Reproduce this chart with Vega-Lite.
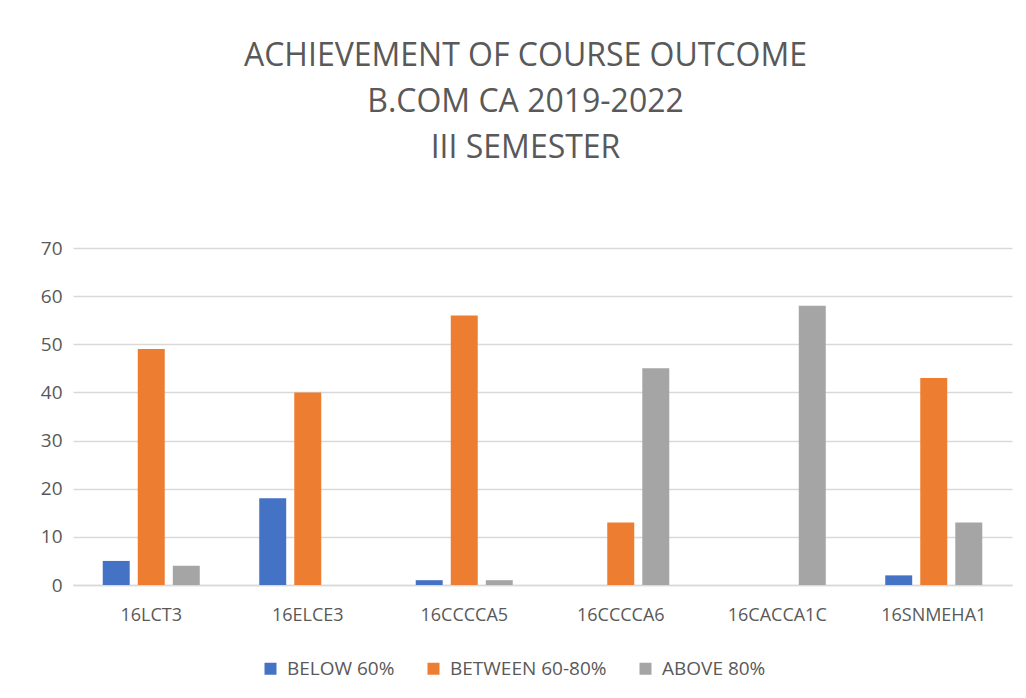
{
  "$schema": "https://vega.github.io/schema/vega-lite/v6.json",
  "autosize": {"type": "none"},
  "width": 939,
  "height": 337,
  "padding": {"left": 73, "top": 248, "right": 14, "bottom": 113},
  "background": "white",
  "title": {
    "text": ["ACHIEVEMENT OF COURSE OUTCOME", "B.COM CA 2019-2022", "III SEMESTER"],
    "font": "Open Sans",
    "fontSize": 32,
    "fontWeight": "normal",
    "color": "#595959",
    "lineHeight": 46,
    "anchor": "middle",
    "dx": -17,
    "offset": 74
  },
  "data": {
    "values": [
      {"course": "16LCT3", "level": "BELOW 60%", "count": 5},
      {"course": "16LCT3", "level": "BETWEEN 60-80%", "count": 49},
      {"course": "16LCT3", "level": "ABOVE 80%", "count": 4},
      {"course": "16ELCE3", "level": "BELOW 60%", "count": 18},
      {"course": "16ELCE3", "level": "BETWEEN 60-80%", "count": 40},
      {"course": "16ELCE3", "level": "ABOVE 80%", "count": 0},
      {"course": "16CCCCA5", "level": "BELOW 60%", "count": 1},
      {"course": "16CCCCA5", "level": "BETWEEN 60-80%", "count": 56},
      {"course": "16CCCCA5", "level": "ABOVE 80%", "count": 1},
      {"course": "16CCCCA6", "level": "BELOW 60%", "count": 0},
      {"course": "16CCCCA6", "level": "BETWEEN 60-80%", "count": 13},
      {"course": "16CCCCA6", "level": "ABOVE 80%", "count": 45},
      {"course": "16CACCA1C", "level": "BELOW 60%", "count": 0},
      {"course": "16CACCA1C", "level": "BETWEEN 60-80%", "count": 0},
      {"course": "16CACCA1C", "level": "ABOVE 80%", "count": 58},
      {"course": "16SNMEHA1", "level": "BELOW 60%", "count": 2},
      {"course": "16SNMEHA1", "level": "BETWEEN 60-80%", "count": 43},
      {"course": "16SNMEHA1", "level": "ABOVE 80%", "count": 13}
    ]
  },
  "mark": {"type": "bar"},
  "encoding": {
    "x": {
      "field": "course",
      "type": "nominal",
      "sort": ["16LCT3", "16ELCE3", "16CCCCA5", "16CCCCA6", "16CACCA1C", "16SNMEHA1"],
      "scale": {"paddingInner": 0.38, "paddingOuter": 0.19},
      "axis": {
        "title": null,
        "labelAngle": 0,
        "labelFont": "Open Sans",
        "labelFontSize": 18,
        "labelColor": "#595959",
        "labelPadding": 21,
        "ticks": false,
        "domain": true,
        "domainColor": "#d9d9d9",
        "domainWidth": 1.5,
        "grid": false
      }
    },
    "xOffset": {
      "field": "level",
      "type": "nominal",
      "sort": ["BELOW 60%", "BETWEEN 60-80%", "ABOVE 80%"],
      "scale": {"paddingInner": 0.23, "paddingOuter": 0}
    },
    "y": {
      "field": "count",
      "type": "quantitative",
      "scale": {"domain": [0, 70], "nice": false},
      "axis": {
        "title": null,
        "values": [0, 10, 20, 30, 40, 50, 60, 70],
        "labelFont": "Open Sans",
        "labelFontSize": 19,
        "labelColor": "#595959",
        "labelPadding": 11,
        "ticks": false,
        "domain": false,
        "grid": true,
        "gridColor": "#d9d9d9",
        "gridWidth": 1.5
      }
    },
    "color": {
      "field": "level",
      "type": "nominal",
      "sort": ["BELOW 60%", "BETWEEN 60-80%", "ABOVE 80%"],
      "scale": {
        "domain": ["BELOW 60%", "BETWEEN 60-80%", "ABOVE 80%"],
        "range": ["#4472C4", "#ED7D31", "#A5A5A5"]
      },
      "legend": {
        "title": null,
        "orient": "none",
        "direction": "horizontal",
        "legendX": 188,
        "legendY": 411,
        "symbolType": "square",
        "symbolSize": 144,
        "symbolStrokeWidth": 0,
        "labelFont": "Open Sans",
        "labelFontSize": 19,
        "labelColor": "#595959",
        "labelOffset": 7,
        "columnPadding": 29
      }
    }
  },
  "config": {
    "view": {"stroke": null}
  }
}
